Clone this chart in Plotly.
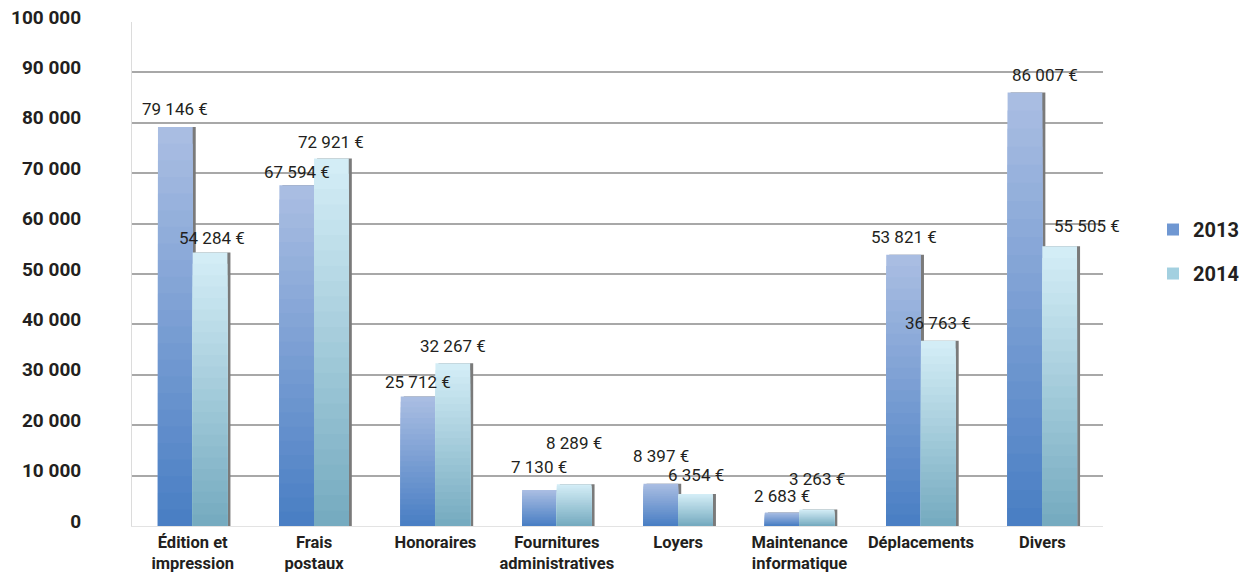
import plotly.graph_objects as go

# ---------------- data ----------------
categories = ["Édition et<br>impression", "Frais<br>postaux", "Honoraires",
              "Fournitures<br>administratives", "Loyers",
              "Maintenance<br>informatique", "Déplacements", "Divers"]
values_2013 = [79146, 67594, 25712, 7130, 8397, 2683, 53821, 86007]
values_2014 = [54284, 72921, 32267, 8289, 6354, 3263, 36763, 55505]
series_names = ["2013", "2014"]
y_tick_vals = [0, 10000, 20000, 30000, 40000, 50000, 60000, 70000, 80000, 90000, 100000]

# ---------------- style ----------------
FONT = "Roboto"
TXT = "#231f20"
BAR_W = 0.286
SHADOW_DX = 0.025
N_LAYERS = 24
grad_2013 = ("#a9bde2", "#4a7fc4")   # top, bottom
grad_2014 = ("#d3edf6", "#76abc0")
legend_col = {"2013": "#6f97d2", "2014": "#a3d0e0"}
# label placement tweaks (pixels)
lift_2013 = [18, 13, 14, 23, 28, 16, 18, 18]
lift_2014 = [14, 16, 17, 41, 19, 31, 18, 20]
dx_2013 = [0, 0, 0, 0, 0, 0, 0, 20]
dx_2014 = [2, 0, 0, 0, 0, 0, 0, 27]


def hex2rgb(h):
    h = h.lstrip("#")
    return tuple(int(h[i:i + 2], 16) for i in (0, 2, 4))


def mix(c1, c2, t):
    a, b = hex2rgb(c1), hex2rgb(c2)
    r = [round(a[i] + (b[i] - a[i]) * t) for i in range(3)]
    return f"rgb({r[0]},{r[1]},{r[2]})"


x_pos = list(range(len(categories)))
fig = go.Figure()

for name, vals, grad, offset in [("2013", values_2013, grad_2013, -BAR_W),
                                 ("2014", values_2014, grad_2014, 0.0)]:
    # shadow
    fig.add_trace(go.Bar(x=x_pos, y=vals, offset=offset + SHADOW_DX, width=BAR_W,
                         marker=dict(color="#7a7a7a", line=dict(width=0)),
                         showlegend=False, hoverinfo="skip", legendgroup=name))
    # vertical gradient built from stacked layers (top light -> bottom dark)
    for k in range(N_LAYERS):
        frac = (N_LAYERS - k) / N_LAYERS
        col = mix(grad[0], grad[1], k / (N_LAYERS - 1))
        fig.add_trace(go.Bar(x=x_pos, y=[v * frac for v in vals], offset=offset, width=BAR_W,
                             marker=dict(color=col, line=dict(width=0)),
                             name=name, legendgroup=name,
                             showlegend=False, hoverinfo="skip"))
    # legend carrier
    fig.add_trace(go.Bar(x=[None], y=[None], name=name, legendgroup=name,
                         marker=dict(color=legend_col[name], line=dict(width=0)),
                         showlegend=True))


def fmt(v):
    return f"{v:,}".replace(",", " ") + " €"


for vals, offset, lifts, dxs in [(values_2013, -BAR_W / 2, lift_2013, dx_2013),
                                 (values_2014, BAR_W / 2, lift_2014, dx_2014)]:
    for i, v in enumerate(vals):
        fig.add_annotation(x=x_pos[i] + offset, y=v, text=fmt(v), showarrow=False,
                           xanchor="center", yanchor="middle", yshift=lifts[i], xshift=dxs[i],
                           font=dict(family=FONT, size=17, color=TXT))

fig.update_layout(
    width=1242, height=573,
    margin=dict(l=132, r=139, t=22, b=47, autoexpand=False),
    barmode="overlay",
    plot_bgcolor="white", paper_bgcolor="white",
    separators=", ",
    font=dict(family=FONT, color=TXT),
    legend=dict(x=1.0515, xanchor="left", y=0.5446, yanchor="middle",
                traceorder="grouped", tracegroupgap=15,
                font=dict(family=FONT, size=20, color=TXT, weight="bold"),
                bgcolor="rgba(0,0,0,0)"),
    xaxis=dict(range=[-0.5, 7.5], tickvals=x_pos, ticktext=categories,
               automargin=False,
               showgrid=False, showline=True, linecolor="#e3e3e3", linewidth=1,
               ticks="", ticklabelstandoff=1,
               tickfont=dict(family=FONT, size=16.5, color=TXT, weight="bold")),
    yaxis=dict(range=[0, 100000], tickvals=y_tick_vals, tickformat=",d",
               automargin=False,
               showgrid=True, gridcolor="#a8a8a8", gridwidth=1.5,
               zeroline=True, zerolinecolor="#e3e3e3", zerolinewidth=1,
               showline=True, linecolor="#dcdcdc", linewidth=1,
               ticks="", ticklabelstandoff=46, ticklabelshift=-5,
               tickfont=dict(family=FONT, size=19, color=TXT, weight="bold")),
)

fig.write_html("out.html")
